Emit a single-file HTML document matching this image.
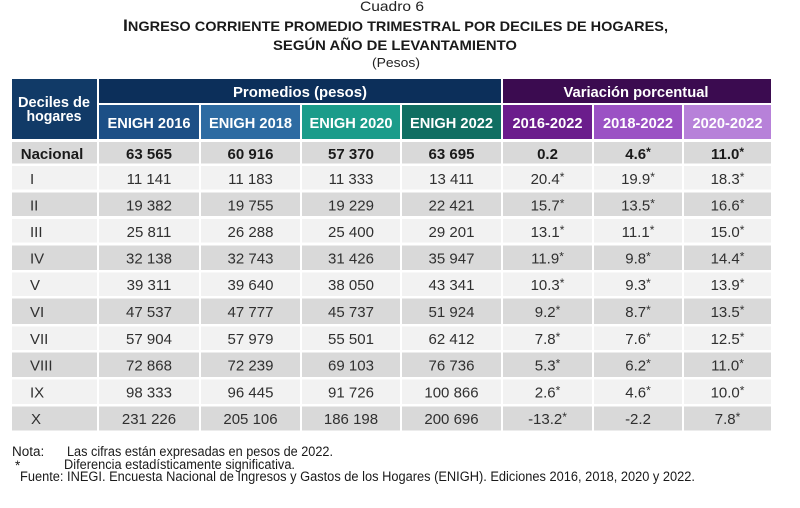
<!DOCTYPE html>
<html><head><meta charset="utf-8"><style>
html,body{margin:0;padding:0;background:#fff;width:800px;height:508px;overflow:hidden}
svg{display:block}
text{font-family:"Liberation Sans",Arial,sans-serif}
.h{fill:#fff;font-weight:bold;font-size:15px;text-anchor:middle}
.b{fill:#303030;font-size:15px;text-anchor:middle}
.bb{fill:#1a1a1a;font-size:15px;font-weight:bold;text-anchor:middle}
.r{fill:#303030;font-size:15px}
.n{fill:#1a1a1a;font-size:13.5px}
.s{font-size:12px}
</style></head><body>
<svg width="800" height="508" viewBox="0 0 800 508" xmlns="http://www.w3.org/2000/svg">
<rect width="800" height="508" fill="#fff"/>
<!-- Titles -->
<text x="360" y="11" font-size="14" fill="#222" textLength="64" lengthAdjust="spacingAndGlyphs">Cuadro 6</text>
<text x="123" y="31" font-weight="bold" fill="#1a1a1a" textLength="545" lengthAdjust="spacingAndGlyphs"><tspan font-size="17">I</tspan><tspan font-size="14">NGRESO CORRIENTE PROMEDIO TRIMESTRAL POR DECILES DE HOGARES,</tspan></text>
<text x="273" y="50" font-weight="bold" font-size="14" fill="#1a1a1a" textLength="244" lengthAdjust="spacingAndGlyphs">SEGÚN AÑO DE  LEVANTAMIENTO</text>
<text x="372" y="67" font-size="13" fill="#222" textLength="48" lengthAdjust="spacingAndGlyphs">(Pesos)</text>

<!-- Header -->
<rect x="12" y="79" width="85" height="60" fill="#113a67"/>
<rect x="99" y="79" width="402" height="24" fill="#0c2f5a"/>
<rect x="503" y="79" width="268" height="24" fill="#3b0b50"/>
<rect x="99" y="105" width="100" height="34" fill="#1c4f86"/>
<rect x="201" y="105" width="99" height="34" fill="#2d6ba2"/>
<rect x="302" y="105" width="98" height="34" fill="#1b9c8a"/>
<rect x="402" y="105" width="99" height="34" fill="#106e62"/>
<rect x="503" y="105" width="89" height="34" fill="#6b1d8c"/>
<rect x="594" y="105" width="88" height="34" fill="#9b52c4"/>
<rect x="684" y="105" width="87" height="34" fill="#b781d9"/>

<text class="h" x="54" y="107" textLength="72" lengthAdjust="spacingAndGlyphs">Deciles de</text>
<text class="h" x="54" y="121" textLength="55" lengthAdjust="spacingAndGlyphs">hogares</text>
<text class="h" x="300" y="97" textLength="134" lengthAdjust="spacingAndGlyphs">Promedios (pesos)</text>
<text class="h" x="636" y="97" textLength="145" lengthAdjust="spacingAndGlyphs">Variación porcentual</text>
<text class="h" x="149" y="128" textLength="83" lengthAdjust="spacingAndGlyphs">ENIGH 2016</text>
<text class="h" x="250.5" y="128" textLength="83" lengthAdjust="spacingAndGlyphs">ENIGH 2018</text>
<text class="h" x="351" y="128" textLength="83" lengthAdjust="spacingAndGlyphs">ENIGH 2020</text>
<text class="h" x="451.5" y="128" textLength="83" lengthAdjust="spacingAndGlyphs">ENIGH 2022</text>
<text class="h" x="547.5" y="128" textLength="70" lengthAdjust="spacingAndGlyphs">2016-2022</text>
<text class="h" x="638" y="128" textLength="70" lengthAdjust="spacingAndGlyphs">2018-2022</text>
<text class="h" x="727.5" y="128" textLength="70" lengthAdjust="spacingAndGlyphs">2020-2022</text>

<!-- Body backgrounds -->
<g>
<g fill="#d9d9d9">
<rect x="12" y="142" width="85" height="21.5"/><rect x="99" y="142" width="100" height="21.5"/><rect x="201" y="142" width="99" height="21.5"/><rect x="302" y="142" width="98" height="21.5"/><rect x="402" y="142" width="99" height="21.5"/><rect x="503" y="142" width="89" height="21.5"/><rect x="594" y="142" width="88" height="21.5"/><rect x="684" y="142" width="87" height="21.5"/>
</g>
<g fill="#f2f2f2">
<rect x="12" y="166" width="85" height="23.5"/><rect x="99" y="166" width="100" height="23.5"/><rect x="201" y="166" width="99" height="23.5"/><rect x="302" y="166" width="98" height="23.5"/><rect x="402" y="166" width="99" height="23.5"/><rect x="503" y="166" width="89" height="23.5"/><rect x="594" y="166" width="88" height="23.5"/><rect x="684" y="166" width="87" height="23.5"/>
</g>
<g fill="#d9d9d9">
<rect x="12" y="192.5" width="85" height="23.5"/><rect x="99" y="192.5" width="100" height="23.5"/><rect x="201" y="192.5" width="99" height="23.5"/><rect x="302" y="192.5" width="98" height="23.5"/><rect x="402" y="192.5" width="99" height="23.5"/><rect x="503" y="192.5" width="89" height="23.5"/><rect x="594" y="192.5" width="88" height="23.5"/><rect x="684" y="192.5" width="87" height="23.5"/>
</g>
<g fill="#f2f2f2">
<rect x="12" y="219" width="85" height="23.5"/><rect x="99" y="219" width="100" height="23.5"/><rect x="201" y="219" width="99" height="23.5"/><rect x="302" y="219" width="98" height="23.5"/><rect x="402" y="219" width="99" height="23.5"/><rect x="503" y="219" width="89" height="23.5"/><rect x="594" y="219" width="88" height="23.5"/><rect x="684" y="219" width="87" height="23.5"/>
</g>
<g fill="#d9d9d9">
<rect x="12" y="245.5" width="85" height="24.5"/><rect x="99" y="245.5" width="100" height="24.5"/><rect x="201" y="245.5" width="99" height="24.5"/><rect x="302" y="245.5" width="98" height="24.5"/><rect x="402" y="245.5" width="99" height="24.5"/><rect x="503" y="245.5" width="89" height="24.5"/><rect x="594" y="245.5" width="88" height="24.5"/><rect x="684" y="245.5" width="87" height="24.5"/>
</g>
<g fill="#f2f2f2">
<rect x="12" y="272.5" width="85" height="23.5"/><rect x="99" y="272.5" width="100" height="23.5"/><rect x="201" y="272.5" width="99" height="23.5"/><rect x="302" y="272.5" width="98" height="23.5"/><rect x="402" y="272.5" width="99" height="23.5"/><rect x="503" y="272.5" width="89" height="23.5"/><rect x="594" y="272.5" width="88" height="23.5"/><rect x="684" y="272.5" width="87" height="23.5"/>
</g>
<g fill="#d9d9d9">
<rect x="12" y="298.5" width="85" height="25.5"/><rect x="99" y="298.5" width="100" height="25.5"/><rect x="201" y="298.5" width="99" height="25.5"/><rect x="302" y="298.5" width="98" height="25.5"/><rect x="402" y="298.5" width="99" height="25.5"/><rect x="503" y="298.5" width="89" height="25.5"/><rect x="594" y="298.5" width="88" height="25.5"/><rect x="684" y="298.5" width="87" height="25.5"/>
</g>
<g fill="#f2f2f2">
<rect x="12" y="326.5" width="85" height="23.5"/><rect x="99" y="326.5" width="100" height="23.5"/><rect x="201" y="326.5" width="99" height="23.5"/><rect x="302" y="326.5" width="98" height="23.5"/><rect x="402" y="326.5" width="99" height="23.5"/><rect x="503" y="326.5" width="89" height="23.5"/><rect x="594" y="326.5" width="88" height="23.5"/><rect x="684" y="326.5" width="87" height="23.5"/>
</g>
<g fill="#d9d9d9">
<rect x="12" y="352.5" width="85" height="24.5"/><rect x="99" y="352.5" width="100" height="24.5"/><rect x="201" y="352.5" width="99" height="24.5"/><rect x="302" y="352.5" width="98" height="24.5"/><rect x="402" y="352.5" width="99" height="24.5"/><rect x="503" y="352.5" width="89" height="24.5"/><rect x="594" y="352.5" width="88" height="24.5"/><rect x="684" y="352.5" width="87" height="24.5"/>
</g>
<g fill="#f2f2f2">
<rect x="12" y="379.5" width="85" height="24.5"/><rect x="99" y="379.5" width="100" height="24.5"/><rect x="201" y="379.5" width="99" height="24.5"/><rect x="302" y="379.5" width="98" height="24.5"/><rect x="402" y="379.5" width="99" height="24.5"/><rect x="503" y="379.5" width="89" height="24.5"/><rect x="594" y="379.5" width="88" height="24.5"/><rect x="684" y="379.5" width="87" height="24.5"/>
</g>
<g fill="#d9d9d9">
<rect x="12" y="406.5" width="85" height="24"/><rect x="99" y="406.5" width="100" height="24"/><rect x="201" y="406.5" width="99" height="24"/><rect x="302" y="406.5" width="98" height="24"/><rect x="402" y="406.5" width="99" height="24"/><rect x="503" y="406.5" width="89" height="24"/><rect x="594" y="406.5" width="88" height="24"/><rect x="684" y="406.5" width="87" height="24"/>
</g>
</g>

<!-- Nacional -->
<text class="bb" x="52" y="159">Nacional</text>
<text class="bb" x="149" y="159">63 565</text>
<text class="bb" x="250.5" y="159">60 916</text>
<text class="bb" x="351" y="159">57 370</text>
<text class="bb" x="451.5" y="159">63 695</text>
<text class="bb" x="547.5" y="159">0.2</text>
<text class="bb" x="638" y="159">4.6<tspan class="s" dy="-3">*</tspan></text>
<text class="bb" x="727.5" y="159">11.0<tspan class="s" dy="-3">*</tspan></text>

<!-- I -->
<text class="r" x="30" y="184">I</text>
<text class="b" x="149" y="184">11 141</text><text class="b" x="250.5" y="184">11 183</text><text class="b" x="351" y="184">11 333</text><text class="b" x="451.5" y="184">13 411</text>
<text class="b" x="547.5" y="184">20.4<tspan class="s" dy="-3">*</tspan></text><text class="b" x="638" y="184">19.9<tspan class="s" dy="-3">*</tspan></text><text class="b" x="727.5" y="184">18.3<tspan class="s" dy="-3">*</tspan></text>
<!-- II -->
<text class="r" x="30" y="210.5">II</text>
<text class="b" x="149" y="210.5">19 382</text><text class="b" x="250.5" y="210.5">19 755</text><text class="b" x="351" y="210.5">19 229</text><text class="b" x="451.5" y="210.5">22 421</text>
<text class="b" x="547.5" y="210.5">15.7<tspan class="s" dy="-3">*</tspan></text><text class="b" x="638" y="210.5">13.5<tspan class="s" dy="-3">*</tspan></text><text class="b" x="727.5" y="210.5">16.6<tspan class="s" dy="-3">*</tspan></text>
<!-- III -->
<text class="r" x="30" y="237">III</text>
<text class="b" x="149" y="237">25 811</text><text class="b" x="250.5" y="237">26 288</text><text class="b" x="351" y="237">25 400</text><text class="b" x="451.5" y="237">29 201</text>
<text class="b" x="547.5" y="237">13.1<tspan class="s" dy="-3">*</tspan></text><text class="b" x="638" y="237">11.1<tspan class="s" dy="-3">*</tspan></text><text class="b" x="727.5" y="237">15.0<tspan class="s" dy="-3">*</tspan></text>
<!-- IV -->
<text class="r" x="30" y="263.5">IV</text>
<text class="b" x="149" y="263.5">32 138</text><text class="b" x="250.5" y="263.5">32 743</text><text class="b" x="351" y="263.5">31 426</text><text class="b" x="451.5" y="263.5">35 947</text>
<text class="b" x="547.5" y="263.5">11.9<tspan class="s" dy="-3">*</tspan></text><text class="b" x="638" y="263.5">9.8<tspan class="s" dy="-3">*</tspan></text><text class="b" x="727.5" y="263.5">14.4<tspan class="s" dy="-3">*</tspan></text>
<!-- V -->
<text class="r" x="30" y="290">V</text>
<text class="b" x="149" y="290">39 311</text><text class="b" x="250.5" y="290">39 640</text><text class="b" x="351" y="290">38 050</text><text class="b" x="451.5" y="290">43 341</text>
<text class="b" x="547.5" y="290">10.3<tspan class="s" dy="-3">*</tspan></text><text class="b" x="638" y="290">9.3<tspan class="s" dy="-3">*</tspan></text><text class="b" x="727.5" y="290">13.9<tspan class="s" dy="-3">*</tspan></text>
<!-- VI -->
<text class="r" x="30" y="317">VI</text>
<text class="b" x="149" y="317">47 537</text><text class="b" x="250.5" y="317">47 777</text><text class="b" x="351" y="317">45 737</text><text class="b" x="451.5" y="317">51 924</text>
<text class="b" x="547.5" y="317">9.2<tspan class="s" dy="-3">*</tspan></text><text class="b" x="638" y="317">8.7<tspan class="s" dy="-3">*</tspan></text><text class="b" x="727.5" y="317">13.5<tspan class="s" dy="-3">*</tspan></text>
<!-- VII -->
<text class="r" x="30" y="344">VII</text>
<text class="b" x="149" y="344">57 904</text><text class="b" x="250.5" y="344">57 979</text><text class="b" x="351" y="344">55 501</text><text class="b" x="451.5" y="344">62 412</text>
<text class="b" x="547.5" y="344">7.8<tspan class="s" dy="-3">*</tspan></text><text class="b" x="638" y="344">7.6<tspan class="s" dy="-3">*</tspan></text><text class="b" x="727.5" y="344">12.5<tspan class="s" dy="-3">*</tspan></text>
<!-- VIII -->
<text class="r" x="30" y="370.5">VIII</text>
<text class="b" x="149" y="370.5">72 868</text><text class="b" x="250.5" y="370.5">72 239</text><text class="b" x="351" y="370.5">69 103</text><text class="b" x="451.5" y="370.5">76 736</text>
<text class="b" x="547.5" y="370.5">5.3<tspan class="s" dy="-3">*</tspan></text><text class="b" x="638" y="370.5">6.2<tspan class="s" dy="-3">*</tspan></text><text class="b" x="727.5" y="370.5">11.0<tspan class="s" dy="-3">*</tspan></text>
<!-- IX -->
<text class="r" x="30" y="397.5">IX</text>
<text class="b" x="149" y="397.5">98 333</text><text class="b" x="250.5" y="397.5">96 445</text><text class="b" x="351" y="397.5">91 726</text><text class="b" x="451.5" y="397.5">100 866</text>
<text class="b" x="547.5" y="397.5">2.6<tspan class="s" dy="-3">*</tspan></text><text class="b" x="638" y="397.5">4.6<tspan class="s" dy="-3">*</tspan></text><text class="b" x="727.5" y="397.5">10.0<tspan class="s" dy="-3">*</tspan></text>
<!-- X -->
<text class="r" x="31" y="424">X</text>
<text class="b" x="149" y="424">231 226</text><text class="b" x="250.5" y="424">205 106</text><text class="b" x="351" y="424">186 198</text><text class="b" x="451.5" y="424">200 696</text>
<text class="b" x="547.5" y="424">-13.2<tspan class="s" dy="-3">*</tspan></text><text class="b" x="638" y="424">-2.2</text><text class="b" x="727.5" y="424">7.8<tspan class="s" dy="-3">*</tspan></text>

<!-- Notes -->
<text class="n" x="12" y="456">Nota:</text>
<text class="n" x="67" y="456" textLength="266" lengthAdjust="spacingAndGlyphs">Las cifras están expresadas en pesos de 2022.</text>
<text class="n" x="15" y="470">*</text>
<text class="n" x="64" y="469" textLength="231" lengthAdjust="spacingAndGlyphs">Diferencia estadísticamente significativa.</text>
<text class="n" x="20" y="481" textLength="675" lengthAdjust="spacingAndGlyphs">Fuente: INEGI. Encuesta Nacional de Ingresos y Gastos de los Hogares (ENIGH). Ediciones 2016, 2018, 2020 y 2022.</text>
</svg>
</body></html>
